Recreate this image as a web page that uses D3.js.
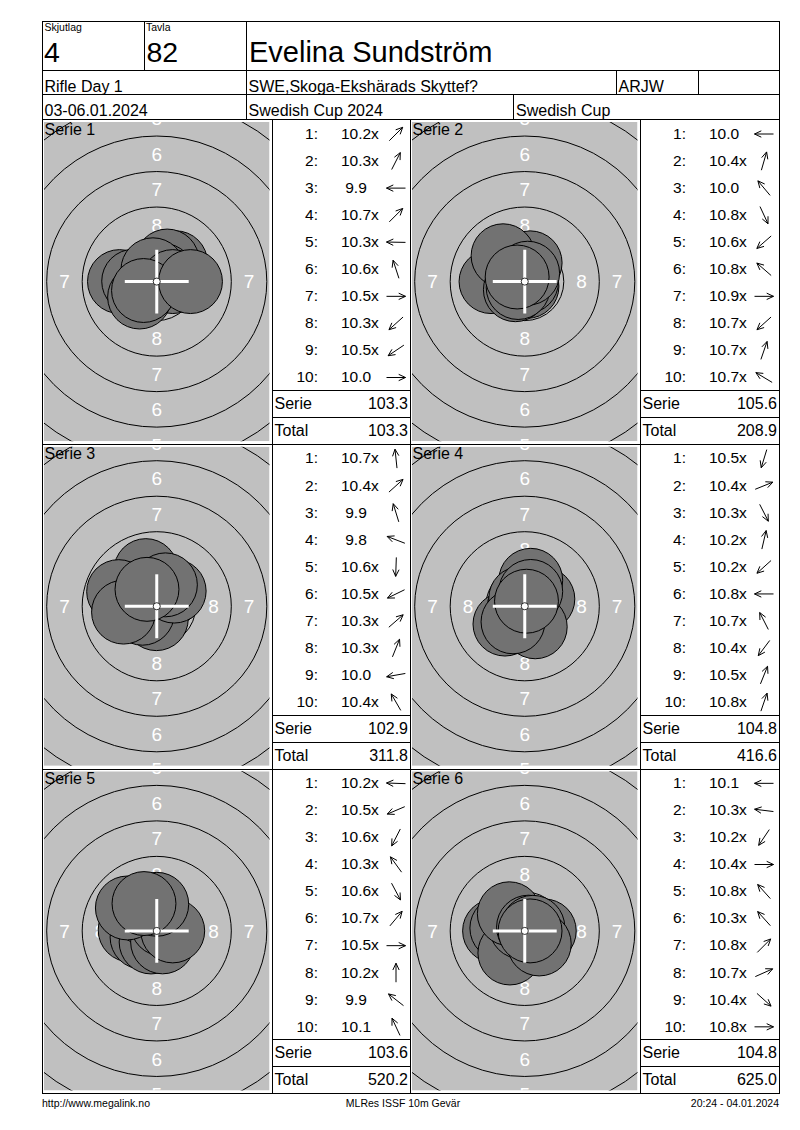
<!DOCTYPE html>
<html>
<head>
<meta charset="utf-8">
<script src="https://cdn.jsdelivr.net/npm/d3@7"></script>
<style>
  body { margin: 0; background: #fff; }
  svg { display: block; }
  text { font-family: "Liberation Sans", Arial, sans-serif; fill: #000; }
</style>
</head>
<body>
<div id="chart"></div>
<script>
// header values
var skjutlag = "4", tavla = "82";
var shooterName = "Evelina Sundström";
var headerRow2 = ["Rifle Day 1", "SWE,Skoga-Ekshärads Skyttef?", "ARJW", ""];
var headerRow3 = ["03-06.01.2024", "Swedish Cup 2024", "Swedish Cup"];
var footer = ["http://www.megalink.no", "MLRes ISSF 10m Gevär", "20:24 - 04.01.2024"];

// shot values per series (score) and direction of the shot from centre (degrees, ccw from east)
var serieNames = ["Serie 1", "Serie 2", "Serie 3", "Serie 4", "Serie 5", "Serie 6"];
var scores1 = [10.2, 10.3, 9.9, 10.7, 10.3, 10.6, 10.5, 10.3, 10.5, 10.0];
var angles1 = [45, 63, 180, 45, 179, 108, 0, 222, 214, 0];
var scores2 = [10.0, 10.4, 10.0, 10.8, 10.6, 10.8, 10.9, 10.7, 10.7, 10.7];
var angles2 = [180, 74, 130, 295, 221, 139, 0, 222, 71, 149];
var scores3 = [10.7, 10.4, 9.9, 9.8, 10.6, 10.5, 10.3, 10.3, 10.0, 10.4];
var angles3 = [96, 42, 107, 159, 268, 206, 41, 68, 190, 120];
var scores4 = [10.5, 10.4, 10.3, 10.2, 10.2, 10.8, 10.7, 10.4, 10.5, 10.8];
var angles4 = [253, 22, 297, 77, 222, 180, 117, 233, 68, 71];
var scores5 = [10.2, 10.5, 10.6, 10.3, 10.6, 10.7, 10.5, 10.2, 9.9, 10.1];
var angles5 = [178, 203, 243, 126, 298, 50, 0, 90, 142, 115];
var scores6 = [10.1, 10.3, 10.2, 10.4, 10.8, 10.3, 10.8, 10.7, 10.4, 10.8];
var angles6 = [180, 173, 236, 0, 132, 132, 45, 24, 318, 0];

var scores = [scores1, scores2, scores3, scores4, scores5, scores6];
var angles = [angles1, angles2, angles3, angles4, angles5, angles6];

// target: ring values, outer radius in mm (ISSF 10m air rifle)
var ringValues = [10, 9, 8, 7, 6, 5, 4, 3, 2, 1];
var labelValues = [8, 7, 6, 5];
function ringRadius(n) { return 0.25 + (10 - n) * 2.5; }
var pelletRadius = 2.25;

var width = 800, height = 1130;
var frame = {x0: 42.5, x1: 779.5, y0: 21.5, y1: 1093.5};
var line1 = 70.5, line2 = 94.5, line3 = 119.5;

var svg = d3.select("#chart")
  .append("svg")
    .attr("width", width)
    .attr("height", height);

var defs = svg.append("defs");

function hline(x1, x2, y) {
  svg.append("line").attr("x1", x1).attr("x2", x2).attr("y1", y).attr("y2", y)
    .style("stroke", "#000").style("stroke-width", 1).style("shape-rendering", "crispEdges");
}
function vline(x, y1, y2) {
  svg.append("line").attr("x1", x).attr("x2", x).attr("y1", y1).attr("y2", y2)
    .style("stroke", "#000").style("stroke-width", 1).style("shape-rendering", "crispEdges");
}
function label(x, y, txt, size, anchor) {
  return svg.append("text").attr("x", x).attr("y", y)
    .attr("text-anchor", anchor || "start")
    .style("font-size", size + "px")
    .text(txt);
}

// ---------- header ----------
label(44.5, 31, "Skjutlag", 10.5);
label(146, 31, "Tavla", 10.5);
label(44, 62, skjutlag, 28.5);
label(146.5, 62, tavla, 28.5);
label(249, 62, shooterName, 29);

var row2x = [44.5, 248.5, 618.5, 700];
headerRow2.forEach(function (t, i) { label(row2x[i], 91.5, t, 16); });
var row3x = [44.5, 248.5, 516];
headerRow3.forEach(function (t, i) { label(row3x[i], 115.5, t, 16); });

// ---------- panels ----------
var panelTop = line3;
var panelH = (frame.y1 - line3) / 3;
var columns = [
  {x0: frame.x0, tx: 272.5, tr: 410.5},
  {x0: 410.5, tx: 640.5, tr: frame.x1}
];

var runningTotal = 0;

serieNames.forEach(function (name, si) {
  var col = columns[si % 2];
  var top = panelTop + Math.floor(si / 2) * panelH;

  // target area
  var gx = col.x0 + 1.5, gw = col.tx - 3 - gx;
  var gy = top + 2.5, gh = panelH - 5.5;
  var cx = gx + gw / 2, cy = gy + gh / 2;

  var xS = d3.scaleLinear().domain([0, 1]).range([cx, cx + 14.2]);
  var yS = d3.scaleLinear().domain([0, 1]).range([cy, cy - 14.2]);
  var rS = function (mm) { return xS(mm) - cx; };

  defs.append("clipPath").attr("id", "clip" + si)
    .append("rect").attr("x", gx).attr("y", gy).attr("width", gw).attr("height", gh);

  var g = svg.append("g").attr("clip-path", "url(#clip" + si + ")");
  g.append("rect").attr("x", gx).attr("y", gy).attr("width", gw).attr("height", gh)
    .style("fill", "#c0c0c0");

  // ring numbers (only where they fall on the target area)
  labelValues.forEach(function (n) {
    var r = rS((ringRadius(n) + ringRadius(n + 1)) / 2);
    [[0, -r], [0, r], [-r, 0], [r, 0]].forEach(function (p) {
      var px = cx + p[0], py = cy + p[1];
      if (px < gx || px > gx + gw || py < gy - 9 || py > gy + gh + 9) return;
      g.append("text")
        .attr("x", px).attr("y", py)
        .attr("text-anchor", "middle")
        .attr("dy", "0.36em")
        .style("font-size", "19px")
        .style("fill", "#fff")
        .text(n);
    });
  });

  // rings
  g.selectAll("circle.ring")
    .data(ringValues.slice(1))
    .enter()
    .append("circle")
      .attr("class", "ring")
      .attr("cx", cx).attr("cy", cy)
      .attr("r", function (d) { return rS(ringRadius(d)); })
      .style("fill", "none")
      .style("stroke", "#000")
      .style("stroke-width", 1);

  // shots
  var shots = scores[si].map(function (s, i) {
    var d = (10.95 - s) * 2.5;
    var a = angles[si][i] * Math.PI / 180;
    return {score: s, angle: angles[si][i], dx: d * Math.cos(a), dy: d * Math.sin(a)};
  });

  g.selectAll("circle.shot")
    .data(shots)
    .enter()
    .append("circle")
      .attr("class", "shot")
      .attr("cx", function (d) { return xS(d.dx); })
      .attr("cy", function (d) { return yS(d.dy); })
      .attr("r", rS(pelletRadius))
      .style("fill", "#727272")
      .style("stroke", "#000")
      .style("stroke-width", 1);

  // centre cross
  var ch = rS(pelletRadius);
  g.append("line").attr("x1", cx - ch).attr("x2", cx + ch).attr("y1", cy).attr("y2", cy)
    .style("stroke", "#fff").style("stroke-width", 3);
  g.append("line").attr("x1", cx).attr("x2", cx).attr("y1", cy - ch).attr("y2", cy + ch)
    .style("stroke", "#fff").style("stroke-width", 3);
  g.append("circle").attr("cx", cx).attr("cy", cy).attr("r", rS(ringRadius(10)))
    .style("fill", "#fff").style("stroke", "#000").style("stroke-width", 0.8);

  g.append("text").attr("x", gx + 0.5).attr("y", top + 15)
    .style("font-size", "16px")
    .text(name);

  // shot table
  var rowY = d3.scaleLinear().domain([0, 12]).range([top, top + panelH]);

  shots.forEach(function (d, i) {
    var base = rowY(i) + 19.3;
    label(col.tx + 45.5, base, (i + 1) + ":", 15.5, "end");
    label(col.tx + 83.5, base, d.score.toFixed(1), 15.5, "middle");
    if (d.score >= 10.2) label(col.tx + 98.5, base, "x", 15.5);

    // direction arrow
    var ax = col.tx + 123.5, ay = rowY(i) + 14.5;
    var a = d.angle * Math.PI / 180;
    var ux = Math.cos(a), uy = -Math.sin(a);
    var L = 9.5, hl = 7.5, ha = 25 * Math.PI / 180;
    var tipX = ax + ux * L, tipY = ay + uy * L;
    var back = Math.atan2(-uy, -ux);
    var path = d3.path();
    path.moveTo(ax - ux * L, ay - uy * L);
    path.lineTo(tipX, tipY);
    path.moveTo(tipX + hl * Math.cos(back + ha), tipY + hl * Math.sin(back + ha));
    path.lineTo(tipX, tipY);
    path.lineTo(tipX + hl * Math.cos(back - ha), tipY + hl * Math.sin(back - ha));
    svg.append("path").attr("d", path.toString())
      .style("fill", "none").style("stroke", "#000").style("stroke-width", 1);
  });

  var serieSum = d3.sum(scores[si]);
  runningTotal += serieSum;

  hline(col.tx, col.tr, Math.round(rowY(10)) + 0.5);
  hline(col.tx, col.tr, Math.round(rowY(11)) + 0.5);
  label(col.tx + 2, rowY(10) + 19, "Serie", 16);
  label(col.tr - 2.5, rowY(10) + 19, serieSum.toFixed(1), 16, "end");
  label(col.tx + 2, rowY(11) + 19, "Total", 16);
  label(col.tr - 2.5, rowY(11) + 19, runningTotal.toFixed(1), 16, "end");

  vline(col.tx, top, top + panelH);
  vline(col.tr, top, top + panelH);
});

// ---------- grid lines ----------
svg.append("rect")
  .attr("x", frame.x0).attr("y", frame.y0)
  .attr("width", frame.x1 - frame.x0).attr("height", frame.y1 - frame.y0)
  .style("fill", "none").style("stroke", "#000").style("shape-rendering", "crispEdges");

hline(frame.x0, frame.x1, line1);
hline(frame.x0, frame.x1, line2);
hline(frame.x0, frame.x1, line3);
vline(144.5, frame.y0, line1);
vline(246.5, frame.y0, line3);
vline(616.5, line1, line2);
vline(698.5, line1, line2);
vline(513.5, line2, line3);
for (var k = 1; k < 3; k++) {
  hline(frame.x0, frame.x1, Math.round(panelTop + k * panelH) + 0.5);
}

// ---------- footer ----------
label(42, 1107, footer[0], 10.5);
label(403, 1107, footer[1], 10.5, "middle");
label(779, 1107, footer[2], 10.5, "end");
</script>
</body>
</html>
